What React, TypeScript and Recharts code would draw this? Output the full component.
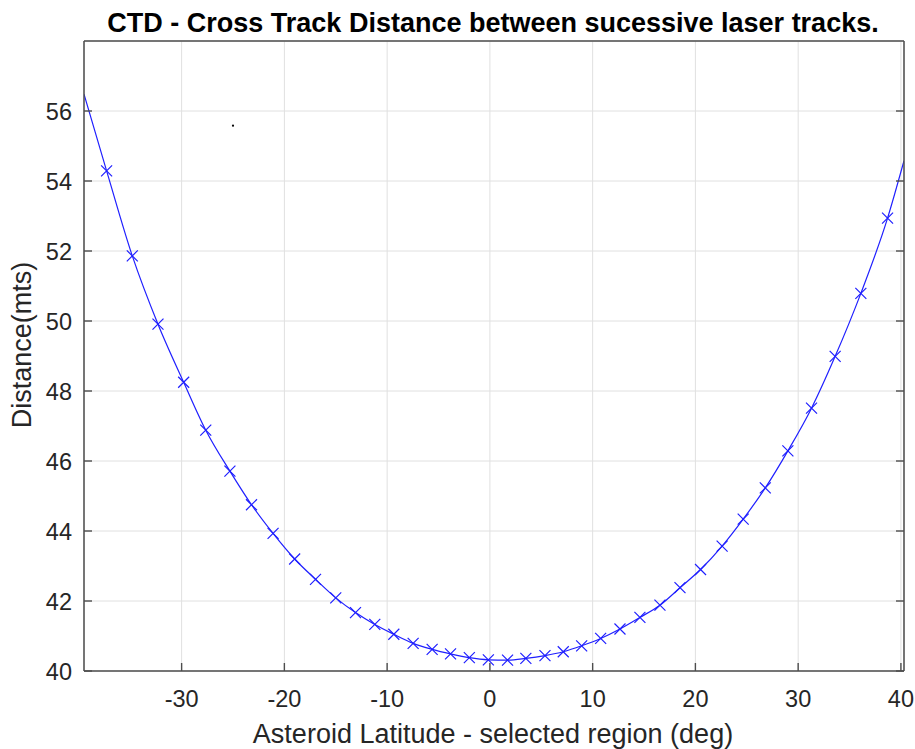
import React from "react";
import { ComposedChart, Line, Scatter, XAxis, YAxis, CartesianGrid } from "recharts";

// latitude (deg) and cross track distance (mts)
const latitude = [
  -39.5, -37.3, -34.8, -32.3, -29.8, -27.65, -25.3, -23.2, -21.1, -19.0,
  -16.97, -15.0, -13.08, -11.2, -9.35, -7.47, -5.62, -3.83, -2.0, -0.15,
  1.72, 3.5, 5.36, 7.14, 8.93, 10.78, 12.66, 14.6, 16.55, 18.5,
  20.5, 22.6, 24.65, 26.8, 29.0, 31.3, 33.6, 36.1, 38.7, 40.3,
];
const distance = [
  56.48, 54.29, 51.86, 49.91, 48.25, 46.88, 45.71, 44.75, 43.93, 43.2,
  42.62, 42.09, 41.67, 41.33, 41.05, 40.79, 40.62, 40.49, 40.38, 40.32,
  40.31, 40.36, 40.44, 40.55, 40.72, 40.93, 41.2, 41.53, 41.88, 42.38,
  42.9, 43.57, 44.34, 45.23, 46.29, 47.51, 48.99, 50.79, 52.94, 54.58,
];
// stray point near the top left
const strayLat = [-25.0];
const strayDist = [55.58];

const xTicks = [-30, -20, -10, 0, 10, 20, 30, 40];
const yTicks = [40, 42, 44, 46, 48, 50, 52, 54, 56];
const xDomain = [-39.5, 40.3];
const yDomain = [40, 58];

const AXIS = "#4d4d4d";
const TEXT = "#262626";
const BLUE = "#1f1fff";
const FONT = "'Liberation Sans', Arial, sans-serif";

const curve = latitude.map((lat, i) => ({ lat, dist: distance[i] }));
const stray = strayLat.map((lat, i) => ({ lat, dist: strayDist[i] }));

// MATLAB style: ticks point into the plot box
const BottomTick = (props: any) => {
  const { x, y, payload } = props;
  return (
    <g>
      <line x1={x} y1={y} x2={x} y2={y - 8} stroke={AXIS} strokeWidth={1.4} />
      <text x={x} y={y + 28} textAnchor="middle" dominantBaseline="central" fontSize={23.5} fill={TEXT} fontFamily={FONT}>
        {payload.value}
      </text>
    </g>
  );
};

const TopTick = (props: any) => {
  const { x, y } = props;
  return <line x1={x} y1={y} x2={x} y2={y + 8} stroke={AXIS} strokeWidth={1.4} />;
};

const LeftTick = (props: any) => {
  const { x, y, payload } = props;
  return (
    <g>
      <line x1={x} y1={y} x2={x + 8} y2={y} stroke={AXIS} strokeWidth={1.4} />
      <text x={x - 12} y={y + 1} textAnchor="end" dominantBaseline="central" fontSize={23.5} fill={TEXT} fontFamily={FONT}>
        {payload.value}
      </text>
    </g>
  );
};

const RightTick = (props: any) => {
  const { x, y } = props;
  return <line x1={x} y1={y} x2={x - 8} y2={y} stroke={AXIS} strokeWidth={1.4} />;
};

const CrossDot = (props: any) => {
  const { cx, cy, index } = props;
  if (index === 0 || index === curve.length - 1) return <g key={index} />;
  const s = 5.5;
  return (
    <path
      key={index}
      d={`M${cx - s},${cy - s}L${cx + s},${cy + s}M${cx - s},${cy + s}L${cx + s},${cy - s}`}
      stroke={BLUE}
      strokeWidth={1.2}
      fill="none"
    />
  );
};

const App = () => {
  return (
    <div style={{ position: "absolute", left: 0, top: 0, width: 915, height: 749, background: "#fff", fontFamily: FONT }}>
      <div
        style={{
          position: "absolute",
          left: 493,
          top: 8,
          transform: "translateX(-50%)",
          whiteSpace: "nowrap",
          fontSize: 27,
          lineHeight: "30px",
          fontWeight: "bold",
          color: "#000",
        }}
      >
        CTD - Cross Track Distance between sucessive laser tracks.
      </div>
      <ComposedChart width={915} height={749} margin={{ top: 40, right: 10, bottom: 0, left: 0 }}>
        <CartesianGrid xAxisId="b" yAxisId="l" stroke="#e0e0e0" strokeWidth={1} />
        <XAxis
          xAxisId="b"
          type="number"
          dataKey="lat"
          domain={xDomain}
          ticks={xTicks}
          interval={0}
          allowDataOverflow
          height={78}
          tickSize={0}
          tickMargin={0}
          tickLine={false}
          tick={BottomTick}
          axisLine={{ stroke: AXIS, strokeWidth: 1.5 }}
        />
        <XAxis
          xAxisId="t"
          orientation="top"
          type="number"
          domain={xDomain}
          ticks={xTicks}
          interval={0}
          allowDataOverflow
          height={1}
          tickSize={0}
          tickMargin={0}
          tickLine={false}
          tick={TopTick}
          axisLine={{ stroke: AXIS, strokeWidth: 1.5 }}
        />
        <YAxis
          yAxisId="l"
          type="number"
          dataKey="dist"
          domain={yDomain}
          ticks={yTicks}
          interval={0}
          allowDataOverflow
          width={84}
          tickSize={0}
          tickMargin={0}
          tickLine={false}
          tick={LeftTick}
          axisLine={{ stroke: AXIS, strokeWidth: 1.5 }}
        />
        <YAxis
          yAxisId="r"
          orientation="right"
          type="number"
          domain={yDomain}
          ticks={yTicks}
          interval={0}
          allowDataOverflow
          width={1}
          tickSize={0}
          tickMargin={0}
          tickLine={false}
          tick={RightTick}
          axisLine={{ stroke: AXIS, strokeWidth: 1.5 }}
        />
        <Line
          xAxisId="b"
          yAxisId="l"
          data={curve}
          dataKey="dist"
          type="monotone"
          stroke={BLUE}
          strokeWidth={1.2}
          dot={CrossDot}
          activeDot={false}
          isAnimationActive={false}
        />
        <Scatter
          xAxisId="b"
          yAxisId="l"
          data={stray}
          dataKey="dist"
          shape={(p: any) => <circle cx={p.cx} cy={p.cy} r={1.1} fill="#000" />}
          isAnimationActive={false}
        />
      </ComposedChart>
      <div
        style={{
          position: "absolute",
          left: 493,
          top: 719,
          transform: "translateX(-50%)",
          whiteSpace: "nowrap",
          fontSize: 27,
          lineHeight: "30px",
          color: TEXT,
        }}
      >
        Asteroid Latitude - selected region (deg)
      </div>
      <div
        style={{
          position: "absolute",
          left: 22,
          top: 345,
          transform: "translate(-50%, -50%) rotate(-90deg)",
          whiteSpace: "nowrap",
          fontSize: 27,
          lineHeight: "30px",
          color: TEXT,
        }}
      >
        Distance(mts)
      </div>
    </div>
  );
};

export default App;
